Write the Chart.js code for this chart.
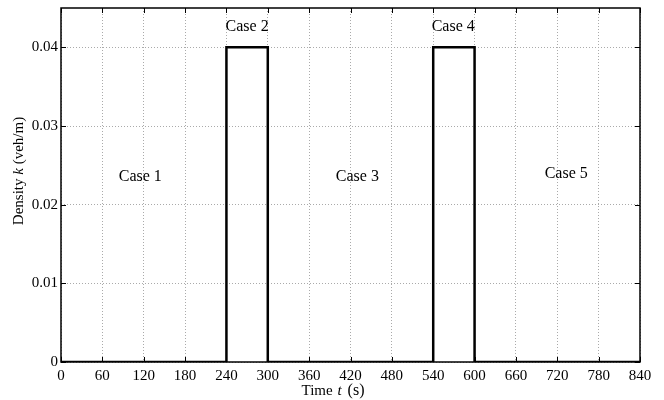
<!DOCTYPE html>
<html>
<head>
<meta charset="utf-8">
<script src="https://cdn.jsdelivr.net/npm/chart.js@4"></script>
<style>
  html, body { margin: 0; padding: 0; background: #fff; }
  #wrap { width: 664px; height: 400px; }
</style>
</head>
<body>
<div id="wrap"><canvas id="densityChart" width="664" height="400"></canvas></div>
<script>
// density profile over time (step shape)
const times = [0, 240, 240, 300, 300, 540, 540, 600, 600, 840];
const density = [0, 0, 0.04, 0.04, 0, 0, 0.04, 0.04, 0, 0];

const xTicks = [0, 60, 120, 180, 240, 300, 360, 420, 480, 540, 600, 660, 720, 780, 840];
const yTicks = [0, 0.01, 0.02, 0.03, 0.04];

const caseLabels = ['Case 1', 'Case 2', 'Case 3', 'Case 4', 'Case 5'];
const caseX = [115, 270, 430, 569, 733];
const caseY = [0.0235, 0.0426, 0.0235, 0.0426, 0.0239];

const FONT = "'Liberation Serif', 'Times New Roman', serif";

// parts: [text, italic, size, gapAfter]
function drawParts(ctx, parts, x, y) {
    let total = 0;
    parts.forEach(p => {
        ctx.font = (p[1] ? 'italic ' : '') + p[2] + 'px ' + FONT;
        total += ctx.measureText(p[0]).width + p[3];
    });
    let cx = x - total / 2;
    parts.forEach(p => {
        ctx.font = (p[1] ? 'italic ' : '') + p[2] + 'px ' + FONT;
        ctx.fillText(p[0], cx, y);
        cx += ctx.measureText(p[0]).width + p[3];
    });
}

const decorPlugin = {
    id: 'decor',
    afterDatasetsDraw(chart) {
        const ctx = chart.ctx;
        const area = chart.chartArea;
        const xs = chart.scales.x, ys = chart.scales.y;
        ctx.save();

        // inward ticks on all sides
        ctx.strokeStyle = '#000';
        ctx.lineWidth = 1;
        const len = 5;
        xTicks.forEach(v => {
            const px = Math.round(xs.getPixelForValue(v)) + 0.5;
            ctx.beginPath();
            ctx.moveTo(px, area.bottom); ctx.lineTo(px, area.bottom - len);
            ctx.moveTo(px, area.top); ctx.lineTo(px, area.top + len);
            ctx.stroke();
        });
        yTicks.forEach(v => {
            const py = Math.round(ys.getPixelForValue(v)) + 0.5;
            ctx.beginPath();
            ctx.moveTo(area.left, py); ctx.lineTo(area.left + len, py);
            ctx.moveTo(area.right, py); ctx.lineTo(area.right - len, py);
            ctx.stroke();
        });

        // box
        ctx.lineWidth = 1.5;
        ctx.strokeRect(area.left, area.top, area.right - area.left, area.bottom - area.top);

        // case annotations
        ctx.fillStyle = '#000';
        ctx.font = '16px ' + FONT;
        ctx.textAlign = 'center';
        ctx.textBaseline = 'middle';
        caseLabels.forEach((t, i) => {
            ctx.fillText(t, xs.getPixelForValue(caseX[i]), ys.getPixelForValue(caseY[i]));
        });

        // axis titles with italic symbols
        ctx.textAlign = 'left';
        drawParts(ctx, [['Time ', false, 15, 1], ['t', true, 15, 2], [' (s)', false, 16, 0]], 333, 391);

        ctx.translate(19, 171);
        ctx.rotate(-Math.PI / 2);
        drawParts(ctx, [['Density ', false, 15, 0], ['k', true, 15, 0], [' (veh/m)', false, 15, 0]], 0, 0);
        ctx.restore();
    }
};

new Chart(document.getElementById('densityChart'), {
    type: 'line',
    data: {
        datasets: [{
            data: times.map((t, i) => ({ x: t, y: density[i] })),
            borderColor: '#000',
            borderWidth: 2.5,
            pointRadius: 0,
            fill: false,
            tension: 0
        }]
    },
    options: {
        responsive: false,
        animation: false,
        layout: { autoPadding: false, padding: { left: 0, right: 24, top: 8, bottom: 0 } },
        plugins: {
            legend: { display: false },
            tooltip: { enabled: false }
        },
        scales: {
            x: {
                type: 'linear',
                min: 0,
                max: 840,
                afterBuildTicks: s => { s.ticks = xTicks.map(v => ({ value: v })); },
                afterFit: s => { s.height = 38; s.paddingLeft = 0; s.paddingRight = 0; },
                border: { display: false, dash: [1, 2] },
                grid: {
                    color: '#aaa',
                    lineWidth: 1,
                    drawTicks: false
                },
                ticks: {
                    color: '#000',
                    padding: 5,
                    maxRotation: 0,
                    font: { family: FONT, size: 15 }
                }
            },
            y: {
                min: 0,
                max: 0.045,
                afterBuildTicks: s => { s.ticks = yTicks.map(v => ({ value: v })); },
                afterFit: s => { s.width = 61; s.paddingTop = 0; s.paddingBottom = 0; },
                border: { display: false, dash: [1, 2] },
                grid: {
                    color: '#aaa',
                    lineWidth: 1,
                    drawTicks: false
                },
                ticks: {
                    color: '#000',
                    padding: 3,
                    font: { family: FONT, size: 15 },
                    callback: v => String(v)
                }
            }
        }
    },
    plugins: [decorPlugin]
});
</script>
</body>
</html>
